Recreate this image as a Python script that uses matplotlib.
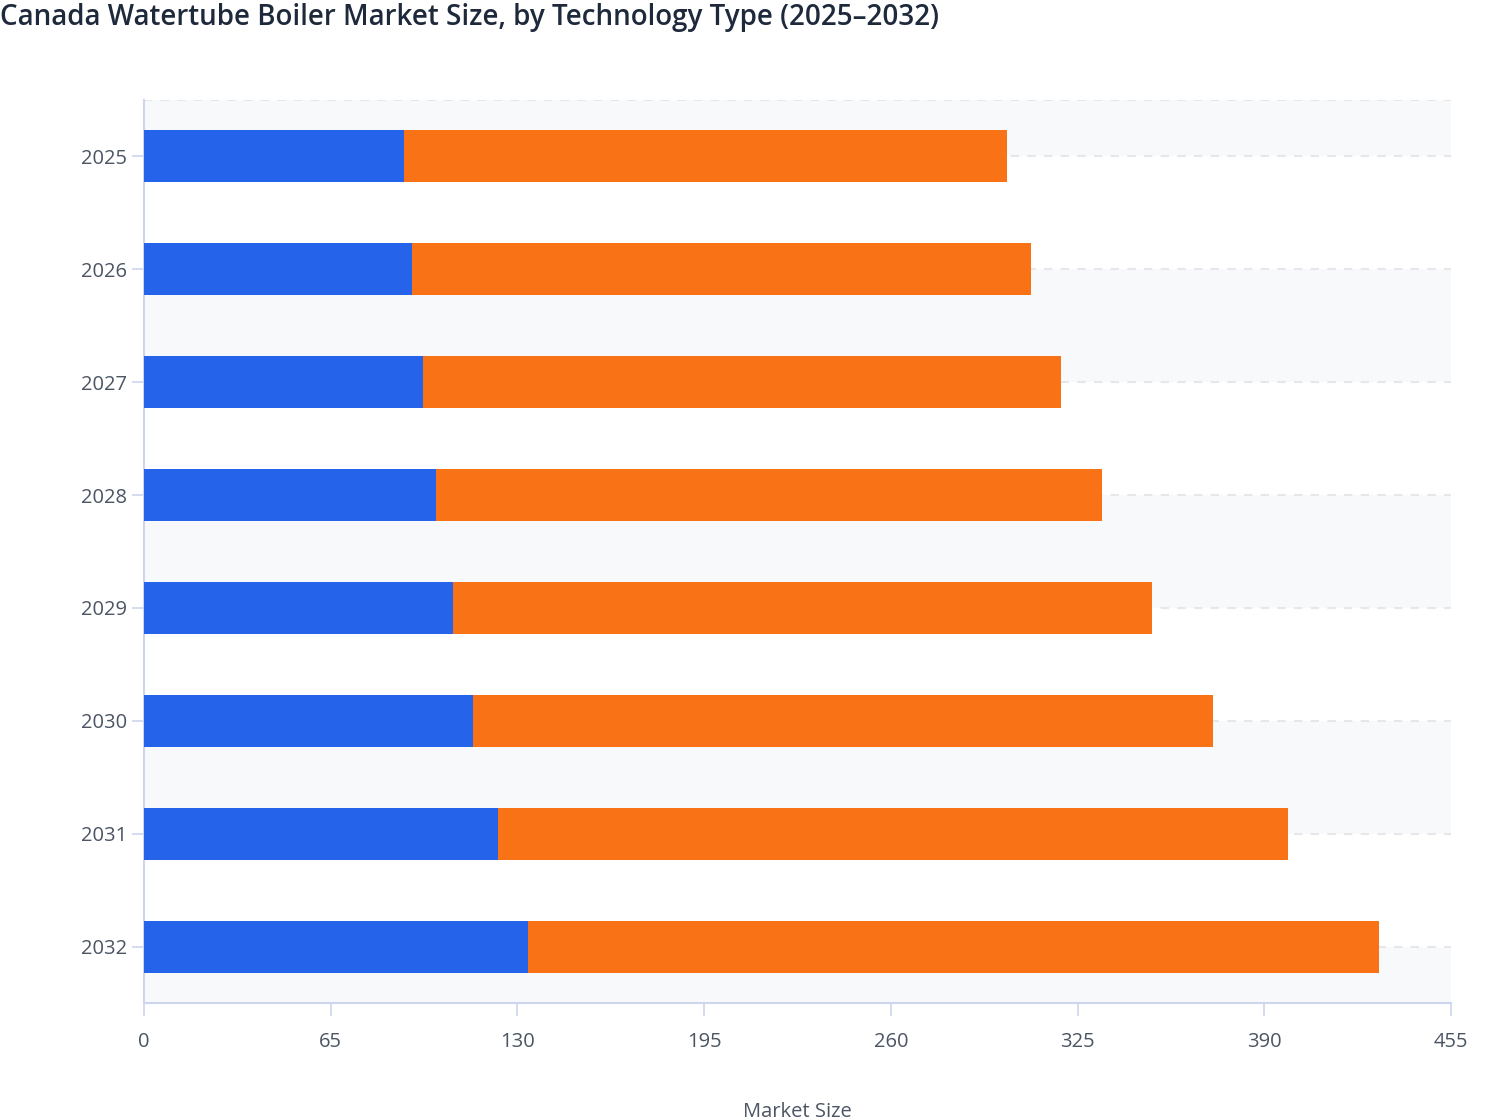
import numpy as np
import matplotlib.pyplot as plt

plt.rcParams['font.family'] = ['Open Sans', 'DejaVu Sans']

years = ['2025', '2026', '2027', '2028', '2029', '2030', '2031', '2032']
blue_vals = [90.5, 93.3, 97.1, 101.7, 107.6, 114.5, 123.2, 133.7]
orange_vals = [209.9, 215.5, 222.1, 231.8, 243.3, 257.7, 275.1, 296.2]
x_ticks = [0, 65, 130, 195, 260, 325, 390, 455]

blue = '#2563eb'
orange = '#f97316'
axis_col = '#cdd6ee'
text_col = '#4b5563'

fig = plt.figure(figsize=(15.08, 11.2), dpi=100)
ax = fig.add_axes([144/1508, 1 - 1003/1120, 1307/1508, 903/1120])

y = np.arange(len(years))

# alternating bands between category lines
n = len(years)
edges = [-0.5] + list(y) + [n - 0.5]
for i in range(len(edges) - 1):
    if i % 2 == 0:
        ax.axhspan(edges[i], edges[i + 1], color='#f8f9fb', lw=0, zorder=0)
for g in [-0.5] + list(y):
    ax.axhline(g, color='#e5e7eb', lw=1.5, ls=(0, (4, 4)), zorder=1)

ax.barh(y, blue_vals, height=0.46, color=blue, zorder=3, edgecolor='none')
ax.barh(y, orange_vals, left=blue_vals, height=0.46, color=orange, zorder=3, edgecolor='none')

ax.set_xlim(0, 455)
ax.set_ylim(n - 0.5, -0.5)
ax.set_xticks(x_ticks)
ax.set_xticklabels([str(t) for t in x_ticks])
ax.set_yticks(y)
ax.set_yticklabels(years)

for s in ['top', 'right']:
    ax.spines[s].set_visible(False)
for s in ['left', 'bottom']:
    ax.spines[s].set_color(axis_col)
    ax.spines[s].set_linewidth(1.5)

ax.tick_params(axis='x', colors=axis_col, labelcolor=text_col, length=9, width=1.2,
               pad=12, labelsize=14.5)
ax.tick_params(axis='y', colors=axis_col, labelcolor=text_col, length=9, width=1.2,
               pad=3, labelsize=14.5)

ax.text(0.5, -0.121, 'Market Size', transform=ax.transAxes, ha='center', va='center',
        fontsize=14.5, color=text_col)

fig.text(0.0, 1 - 18/1120, 'Canada Watertube Boiler Market Size, by Technology Type (2025\u20132032)',
         ha='left', va='center', fontsize=20, color='#1e293b', fontweight='semibold')

fig.savefig('out.png', dpi=100)
